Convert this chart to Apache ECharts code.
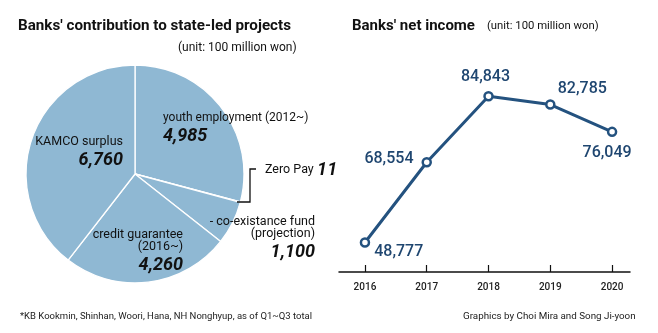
<!DOCTYPE html>
<html><head><meta charset="utf-8">
<script src="https://cdn.jsdelivr.net/npm/echarts@6/dist/echarts.min.js"></script>
<style>html,body{margin:0;padding:0;background:#fff}#c{width:658px;height:333px}</style>
</head><body><div id="c"></div>
<script>
// ---- data ----
const pieNames = ['youth employment (2012~)', 'Zero Pay', '- co-existance fund\n(projection)', 'credit guarantee\n(2016~)', 'KAMCO surplus'];
const pieValues = [4985, 11, 1100, 4260, 6760];
const years = [2016, 2017, 2018, 2019, 2020];
const netIncome = [48777, 68554, 84843, 82785, 76049];

// ---- layout (not data) ----
const FONT = 'Roboto';
const pieLabelLayout = [
  {x: 163, y: 110, align: 'left', verticalAlign: 'top'},
  {x: 265, y: 170, align: 'left', verticalAlign: 'middle'},
  {x: 315, y: 216, align: 'right', verticalAlign: 'top'},
  {x: 183, y: 229, align: 'right', verticalAlign: 'top'},
  {x: 123, y: 134, align: 'right', verticalAlign: 'top'}
];
const pieNameSize = [12, 12.5, 12.5, 12.5, 12.5];
const lineLabelCfg = [
  {position: 'right', distance: 4, offset: [0, 10]},
  {position: 'left', distance: 8, offset: [0, -3]},
  {position: 'top', distance: 6, offset: [-3, 0]},
  {position: 'top', distance: 2, offset: [32, 0]},
  {position: 'bottom', distance: 8, offset: [-5, 0]}
];

const fmt = v => v.toLocaleString('en-US');

const pieData = pieNames.map((n, i) => {
  const al = pieLabelLayout[i].align;
  let formatter;
  if (i === 1) formatter = '{n|' + n + '} {v|' + pieValues[i] + '}';
  else formatter = n.split('\n').map(s => '{n|' + s + '}').join('\n') + '\n{v|' + fmt(pieValues[i]) + '}';
  return {
    name: n, value: pieValues[i],
    label: {formatter: formatter, align: al,
      rich: {
        n: {fontFamily: FONT, fontSize: pieNameSize[i], color: '#111', lineHeight: (i === 0 || i === 4) ? 15 : 12, align: al},
        v: {fontFamily: FONT, fontSize: 18, fontWeight: 'bold', fontStyle: 'italic', color: '#111', lineHeight: (i === 0 || i === 4) ? 22 : 25, align: al}
      }}
  };
});

const chart = echarts.init(document.getElementById('c'), null, {renderer: 'canvas'});
chart.setOption({
  backgroundColor: '#fff',
  animation: false,
  title: [
    {text: "Banks' contribution to state-led projects", left: 18, top: 19, padding: 0, textStyle: {fontFamily: FONT, fontSize: 15.2, fontWeight: 'bold', color: '#111'}},
    {text: '(unit: 100 million won)', left: 178, top: 42, padding: 0, textStyle: {fontFamily: FONT, fontSize: 12, fontWeight: 'normal', color: '#111'}},
    {text: "Banks' net income", left: 352, top: 19, padding: 0, textStyle: {fontFamily: FONT, fontSize: 15, fontWeight: 'bold', color: '#111'}},
    {text: '(unit: 100 million won)', left: 487, top: 21, padding: 0, textStyle: {fontFamily: FONT, fontSize: 11.3, fontWeight: 'normal', color: '#111'}},
    {text: '*KB Kookmin, Shinhan, Woori, Hana, NH Nonghyup, as of Q1~Q3 total', left: 20, top: 312, padding: 0, textStyle: {fontFamily: FONT, fontSize: 9.5, fontWeight: 'normal', color: '#222'}},
    {text: 'Graphics by Choi Mira and Song Ji-yoon', left: 463, top: 312, padding: 0, textStyle: {fontFamily: FONT, fontSize: 9.8, fontWeight: 'normal', color: '#222'}}
  ],
  grid: {left: 339, right: 28, top: 60, bottom: 61},
  xAxis: {
    type: 'value', min: 2015.58, max: 2020.29,
    axisLine: {lineStyle: {color: '#111', width: 1.5}},
    axisTick: {show: true, inside: true, length: 7, customValues: years, lineStyle: {color: '#111', width: 1.2}},
    axisLabel: {customValues: years, formatter: v => String(v), fontFamily: FONT, fontSize: 10, fontWeight: 500, color: '#222', margin: 10},
    splitLine: {show: false}
  },
  yAxis: {type: 'value', min: 41500, max: 93760, show: false, splitLine: {show: false}},
  graphic: [
    {type: 'polyline', shape: {points: [[237, 202], [250, 202], [250, 169], [256, 169]]}, style: {stroke: '#111', lineWidth: 1.3, fill: null}, z: 10}
  ],
  series: [
    {
      type: 'pie', center: [135, 174], radius: 109, startAngle: 90, clockwise: true,
      itemStyle: {color: '#8fb8d3', borderColor: '#fff', borderWidth: 1.3},
      label: {show: true, position: 'inside'},
      labelLine: {show: false},
      emphasis: {disabled: true},
      labelLayout: function (p) { return pieLabelLayout[p.dataIndex]; },
      data: pieData
    },
    {
      type: 'line',
      data: years.map((y, i) => ({
        value: [y, netIncome[i]],
        label: Object.assign({show: true, formatter: fmt(netIncome[i]), fontFamily: FONT, fontSize: 16, fontWeight: 500, color: '#1f4670'}, lineLabelCfg[i])
      })),
      lineStyle: {color: '#24527f', width: 3},
      symbol: 'circle', symbolSize: 8,
      itemStyle: {color: '#fff', borderColor: '#24527f', borderWidth: 2.5},
      z: 5
    }
  ]
});
</script></body></html>
